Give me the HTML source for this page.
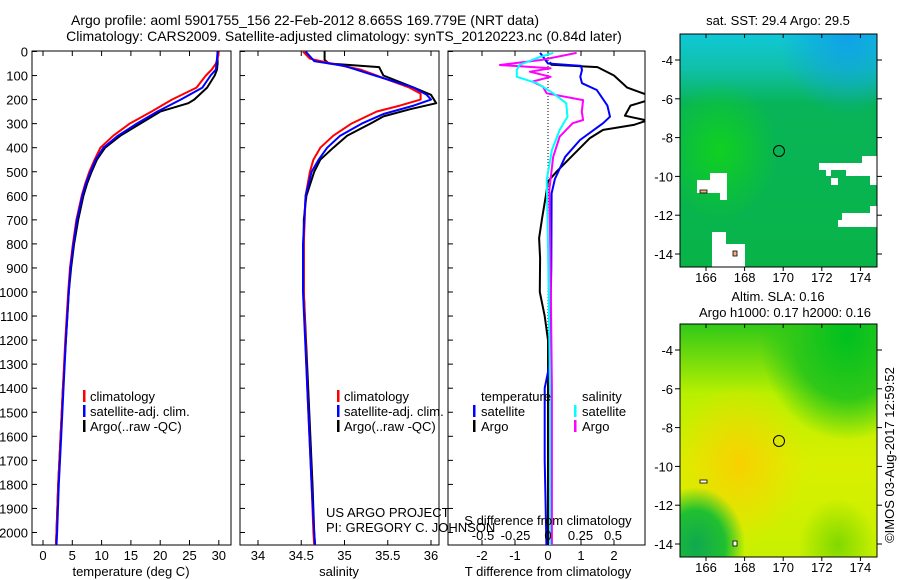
<!DOCTYPE html>
<html><head><meta charset="utf-8"><style>
html,body{margin:0;padding:0;background:#fff}
svg{display:block;font-family:"Liberation Sans",sans-serif}
text{font-size:13px;fill:#000}
</style></head><body>
<svg id="fig" width="900" height="580" viewBox="0 0 900 580" xmlns="http://www.w3.org/2000/svg">
<defs>
<linearGradient id="sstTop" x1="0" y1="0" x2="0" y2="1">
<stop offset="0" stop-color="#10c8d8"/><stop offset="0.15" stop-color="#10c0a8"/><stop offset="0.3" stop-color="#08b458"/><stop offset="1" stop-color="#08b448"/>
</linearGradient>
<radialGradient id="sstBlue" cx="0.85" cy="0" r="0.35"><stop offset="0" stop-color="#10a0e8"/><stop offset="1" stop-color="#10a0e8" stop-opacity="0"/></radialGradient>
<radialGradient id="sstLight" cx="0.2" cy="0.5" r="0.3"><stop offset="0" stop-color="#10d020"/><stop offset="1" stop-color="#10d020" stop-opacity="0"/></radialGradient>
<linearGradient id="slaBase" x1="0" y1="0" x2="0" y2="1">
<stop offset="0" stop-color="#30c818"/><stop offset="0.3" stop-color="#b8f000"/><stop offset="0.6" stop-color="#d8f000"/><stop offset="1" stop-color="#c8f000"/>
</linearGradient>
<radialGradient id="slaGreenTR" cx="0.85" cy="0.05" r="0.45"><stop offset="0" stop-color="#00c020"/><stop offset="0.6" stop-color="#30c818"/><stop offset="1" stop-color="#30c818" stop-opacity="0"/></radialGradient>
<radialGradient id="slaGreenBL" cx="0.08" cy="0.95" r="0.25"><stop offset="0" stop-color="#10a850"/><stop offset="0.6" stop-color="#20c030"/><stop offset="1" stop-color="#20c030" stop-opacity="0"/></radialGradient>
<radialGradient id="slaOrange" cx="0.3" cy="0.6" r="0.35"><stop offset="0" stop-color="#f8d000"/><stop offset="1" stop-color="#f8d800" stop-opacity="0"/></radialGradient>
<radialGradient id="slaGreenBR" cx="0.8" cy="0.95" r="0.2"><stop offset="0" stop-color="#80d800"/><stop offset="1" stop-color="#80d800" stop-opacity="0"/></radialGradient>
<clipPath id="c1"><rect x="32" y="51" width="199" height="494"/></clipPath>
<clipPath id="c2"><rect x="240" y="51" width="199" height="494"/></clipPath>
<clipPath id="c3"><rect x="448" y="51" width="197" height="494"/></clipPath>
</defs>

<text x="305" y="25" text-anchor="middle" style="font-size:14px">Argo profile: aoml 5901755_156 22-Feb-2012 8.665S 169.779E (NRT data)</text>
<text x="344" y="41" text-anchor="middle" style="font-size:14px">Climatology: CARS2009. Satellite-adjusted climatology: synTS_20120223.nc (0.84d later)</text>

<g id="axes"></g>
<g id="lines"></g>

<g>
<rect x="83" y="390" width="2.5" height="12" fill="#f00"/><text x="90" y="401">climatology</text>
<rect x="83" y="405" width="2.5" height="12" fill="#00f"/><text x="90" y="416">satellite-adj. clim.</text>
<rect x="83" y="420" width="2.5" height="12" fill="#000"/><text x="90" y="431">Argo(..raw -QC)</text>
</g>
<g>
<rect x="337" y="390" width="2.5" height="12" fill="#f00"/><text x="344" y="401">climatology</text>
<rect x="337" y="405" width="2.5" height="12" fill="#00f"/><text x="344" y="416">satellite-adj. clim.</text>
<rect x="337" y="420" width="2.5" height="12" fill="#000"/><text x="344" y="431">Argo(..raw -QC)</text>
</g>
<g>
<text x="481" y="401">temperature</text><text x="582" y="401">salinity</text>
<rect x="473" y="405" width="2.5" height="12" fill="#00f"/><text x="481" y="416">satellite</text>
<rect x="473" y="420" width="2.5" height="12" fill="#000"/><text x="481" y="431">Argo</text>
<rect x="574" y="405" width="2.5" height="12" fill="#0ff"/><text x="582" y="416">satellite</text>
<rect x="574" y="420" width="2.5" height="12" fill="#f0f"/><text x="582" y="431">Argo</text>
</g>
<text x="326" y="517">US ARGO PROJECT</text>
<text x="326" y="532">PI: GREGORY C. JOHNSON</text>
<text x="548" y="525" text-anchor="middle">S difference from climatology</text>
<g id="sticks"></g>

<text x="131" y="576" text-anchor="middle">temperature (deg C)</text>
<text x="339" y="576" text-anchor="middle">salinity</text>
<text x="548" y="576" text-anchor="middle">T difference from climatology</text>

<g>
<text x="778" y="25" text-anchor="middle">sat. SST: 29.4 Argo: 29.5</text>
<rect x="680" y="34" width="197" height="233" fill="url(#sstTop)"/>
<rect x="680" y="34" width="197" height="233" fill="url(#sstBlue)"/>
<rect x="680" y="34" width="197" height="233" fill="url(#sstLight)"/>
<g fill="#fff">
<polygon points="819,163 862,163 862,156 877,156 877,185 870,185 870,176 846,176 846,170 831,170 831,176 826,176 826,170 819,170"/>
<rect x="831" y="178" width="7" height="7"/>
<polygon points="842,213 870,213 870,206 877,206 877,227 838,227 838,220 842,220"/>
<polygon points="697,180 710,180 710,173 727,173 727,200 720,200 720,193 697,193"/>
<polygon points="712,232 726,232 726,244 745,244 745,267 712,267"/>
</g>
<rect x="700" y="190" width="7" height="3" fill="#f0b080" stroke="#000" stroke-width="0.8"/>
<rect x="733" y="251" width="4" height="5" fill="#f0b080" stroke="#000" stroke-width="0.8"/>
<circle cx="779" cy="151" r="5.5" fill="none" stroke="#000" stroke-width="1"/>
<rect x="680" y="34" width="197" height="233" fill="none" stroke="#000" stroke-width="1"/>
</g>
<g>
<text x="778" y="301" text-anchor="middle">Altim. SLA: 0.16</text>
<text x="785" y="317" text-anchor="middle">Argo h1000: 0.17 h2000: 0.16</text>
<rect x="680" y="324" width="197" height="233" fill="url(#slaBase)"/>
<rect x="680" y="324" width="197" height="233" fill="url(#slaOrange)"/>
<rect x="680" y="324" width="197" height="233" fill="url(#slaGreenTR)"/>
<rect x="680" y="324" width="197" height="233" fill="url(#slaGreenBR)"/>
<rect x="680" y="324" width="197" height="233" fill="url(#slaGreenBL)"/>
<circle cx="779" cy="441" r="5.5" fill="none" stroke="#000" stroke-width="1"/>
<rect x="700" y="480" width="7" height="3" fill="#fff" stroke="#000" stroke-width="0.8"/>
<rect x="733" y="541" width="4" height="5" fill="#fff" stroke="#000" stroke-width="0.8"/>
<rect x="680" y="324" width="197" height="233" fill="none" stroke="#000" stroke-width="1"/>
</g>
<g id="mapaxes"></g>
<text transform="translate(894,455) rotate(-90)" text-anchor="middle">©IMOS 03-Aug-2017 12:59:52</text>
</svg>
<script>
const tempClimDepth = [0,30,50,75,100,150,200,250,300,350,400,450,500,550,600,700,800,900,1000,1200,1400,1600,1800,2000,2055];
const tempClim      = [30,29.8,29.5,28.8,27.8,26.2,22.0,18.5,14.8,12.0,9.8,8.8,7.9,7.2,6.6,5.7,5.1,4.6,4.3,3.8,3.4,3.0,2.6,2.3,2.2];
const tempSatDepth  = [0,30,75,100,150,200,250,300,350,400,450,500,550,600,700,800,900,1000,1200,1400,1600,1800,2000,2055];
const tempSat       = [29.8,29.7,29.5,28.6,27.2,23.5,19.5,16.0,12.8,10.3,9.0,8.1,7.3,6.7,5.8,5.2,4.7,4.4,3.9,3.5,3.1,2.7,2.4,2.3];
const tempArgoDepth = [0,50,75,100,150,200,215,250,300,350,400,450,500,550,600,700,800,900,1000,1200,1400,1600,1800,2000,2055];
const tempArgo      = [29.8,29.8,29.7,29.3,28.0,25.8,24.8,20.0,16.6,13.2,10.6,9.2,8.3,7.5,6.9,6.0,5.3,4.8,4.4,3.9,3.4,3.0,2.6,2.3,2.2];

const salClimDepth = [0,30,50,75,100,150,175,200,225,250,300,350,400,450,500,600,800,1000,1400,1800,2000,2055];
const salClim      = [34.52,34.6,34.85,35.18,35.37,35.75,35.88,35.88,35.64,35.37,35.08,34.87,34.72,34.64,34.6,34.55,34.53,34.53,34.57,34.62,34.64,34.65];
const salSatDepth  = [0,40,60,100,150,180,200,225,260,300,350,400,450,500,600,800,1000,1400,1800,2000,2055];
const salSat       = [34.55,34.65,35.0,35.35,35.8,35.95,36.0,35.8,35.45,35.2,34.95,34.8,34.7,34.62,34.55,34.52,34.52,34.57,34.62,34.65,34.66];
const salArgoDepth = [0,35,50,65,100,150,180,215,240,270,300,350,400,450,500,600,700,1000,1400,1800,2000,2055];
const salArgo      = [34.77,34.77,34.82,35.4,35.45,35.8,36.0,36.06,35.76,35.45,35.3,35.03,34.87,34.72,34.65,34.56,34.53,34.53,34.58,34.63,34.65,34.66];

const dtArgoDepth = [44,55,65,100,150,180,204,225,267,287,305,326,360,430,498,540,596,693,776,860,1000,1100,1200,1500,1800,2000,2055];
const dtArgo      = [0.06,0.1,1.5,2.0,2.4,3.0,3.0,2.5,2.33,3.0,2.6,1.67,1.27,0.76,0.27,0.0,-0.06,-0.18,-0.27,-0.24,-0.25,-0.1,0.0,0.0,0.0,0.0,0.0];
const dtSatDepth  = [6,50,60,77,105,132,160,225,271,298,368,438,530,590,900,1300,1400,1700,1900,2055];
const dtSat       = [-0.24,0.0,1.0,1.03,0.98,1.03,1.48,1.8,1.88,1.67,0.97,0.52,0.21,0.11,0.1,0.05,-0.1,-0.1,-0.07,-0.05];
const dsSatDepth  = [6,27,56,77,105,132,174,215,271,326,410,534,800,1400,2055];
const dsSat       = [0.04,-0.085,-0.22,-0.24,-0.24,-0.085,0.04,0.14,0.15,0.09,0.03,-0.01,0.0,0.015,0.015];
const dsArgoDepth = [6,34,56,70,84,105,125,146,174,202,250,285,298,354,438,576,900,1400,1800,2055];
const dsArgo      = [0.22,-0.04,-0.37,0.02,-0.14,0.02,-0.12,-0.04,-0.01,0.27,0.26,0.27,0.19,0.09,0.04,0.01,0.02,0.03,0.03,0.03];

const depthTicks = [0,100,200,300,400,500,600,700,800,900,1000,1100,1200,1300,1400,1500,1600,1700,1800,1900,2000];
const tempTicks = [0,5,10,15,20,25,30];
const salTicks = [34,34.5,35,35.5,36];
const salTickLabels = ["34","34.5","35","35.5","36"];
const dtTicks = [-2,-1,0,1,2];
const dsTicks = [-0.5,-0.25,0,0.25,0.5];
const dsTickLabels = ["-0.5","-0.25","0","0.25","0.5"];
const lonTicks = [166,168,170,172,174];
const latTicks = [-4,-6,-8,-10,-12,-14];

const yD = d => 51.5 + d*0.2405;
const xT = t => 43 + t*5.86;
const xS = s => 258 + (s-34)*86.5;
const xDT = v => 548 + v*33;
const xDS = v => 548 + v*130;
const xLon = l => 706 + (l-166)*19.3;
const yLat = (l, top) => top + 26 + (-4 - l)*19.4;

const NS = "http://www.w3.org/2000/svg";
function mk(tag, attrs, parent){ const e=document.createElementNS(NS,tag); for(const k in attrs) e.setAttribute(k,attrs[k]); parent.appendChild(e); return e; }
const axes = document.getElementById('axes');
const lines = document.getElementById('lines');

const panels = [
 {x0:32,x1:231,ticks:tempTicks,labels:tempTicks.map(String),fx:xT,name:'temperature-panel'},
 {x0:240,x1:439,ticks:salTicks,labels:salTickLabels,fx:xS,name:'salinity-panel'},
 {x0:448,x1:645,ticks:dtTicks,labels:dtTicks.map(String),fx:xDT,name:'difference-panel'}
];
panels.forEach((p,i)=>{
  const r = mk('rect',{x:p.x0,y:51,width:p.x1-p.x0,height:494,fill:'none',stroke:'#000','stroke-width':1},axes);
  
  
  depthTicks.forEach(d=>{
    mk('line',{x1:p.x0,x2:p.x0+5,y1:yD(d),y2:yD(d),stroke:'#000'},axes);
  });
  p.ticks.forEach((t,j)=>{
    const x=p.fx(t);
    mk('line',{x1:x,x2:x,y1:51,y2:56,stroke:'#000'},axes);
    mk('line',{x1:x,x2:x,y1:545,y2:540,stroke:'#000'},axes);
    const tx = mk('text',{x:x,y:560,'text-anchor':'middle'},axes);
    tx.textContent = p.labels[j];
    
    
  });
});
depthTicks.forEach(d=>{
  const t = mk('text',{x:28,y:yD(d)+5,'text-anchor':'end'},axes);
  t.textContent = String(d);
  
  
});
mk('line',{x1:548,x2:548,y1:51,y2:545,stroke:'#000','stroke-dasharray':'1,2'},axes);
const st = document.getElementById('sticks');
dsTicks.forEach((v,j)=>{
  const t = mk('text',{x:xDS(v),y:540,'text-anchor':'middle'},st);
  t.textContent = dsTickLabels[j];
  
  
});

function series(depths, vals, fx, color, clip, name){
  const pts = depths.map((d,i)=>fx(vals[i]).toFixed(1)+','+yD(d).toFixed(1)).join(' ');
  const pl = mk('polyline',{points:pts,fill:'none',stroke:color,'stroke-width':2,'clip-path':'url(#'+clip+')','stroke-linejoin':'round'},lines);
  
  
}
series(tempArgoDepth,tempArgo,xT,'#000','c1','temp-argo-line');
series(tempClimDepth,tempClim,xT,'#f00','c1','temp-climatology-line');
series(tempSatDepth,tempSat,xT,'#00f','c1','temp-satellite-line');
series(salArgoDepth,salArgo,xS,'#000','c2','sal-argo-line');
series(salClimDepth,salClim,xS,'#f00','c2','sal-climatology-line');
series(salSatDepth,salSat,xS,'#00f','c2','sal-satellite-line');
series(dtArgoDepth,dtArgo,xDT,'#000','c3','t-diff-argo-line');
series(dtSatDepth,dtSat,xDT,'#00f','c3','t-diff-satellite-line');
series(dsArgoDepth,dsArgo,xDS,'#f0f','c3','s-diff-argo-line');
series(dsSatDepth,dsSat,xDS,'#0ff','c3','s-diff-satellite-line');

const ma = document.getElementById('mapaxes');
[34,324].forEach(top=>{
  const bot = top+233;
  lonTicks.forEach(l=>{
    const x=xLon(l);
    mk('line',{x1:x,x2:x,y1:top,y2:top+4,stroke:'#000'},ma);
    mk('line',{x1:x,x2:x,y1:bot,y2:bot+4,stroke:'#000'},ma);
    const t=mk('text',{x:x,y:bot+15,'text-anchor':'middle'},ma);
    t.textContent=String(l);
    
    
  });
  latTicks.forEach(l=>{
    const y=yLat(l,top);
    mk('line',{x1:675,x2:680,y1:y,y2:y,stroke:'#000'},ma);
    mk('line',{x1:877,x2:882,y1:y,y2:y,stroke:'#000'},ma);
    const t=mk('text',{x:673,y:y+5,'text-anchor':'end'},ma);
    t.textContent=String(l);
    
    
  });
});
</script>
</body></html>
